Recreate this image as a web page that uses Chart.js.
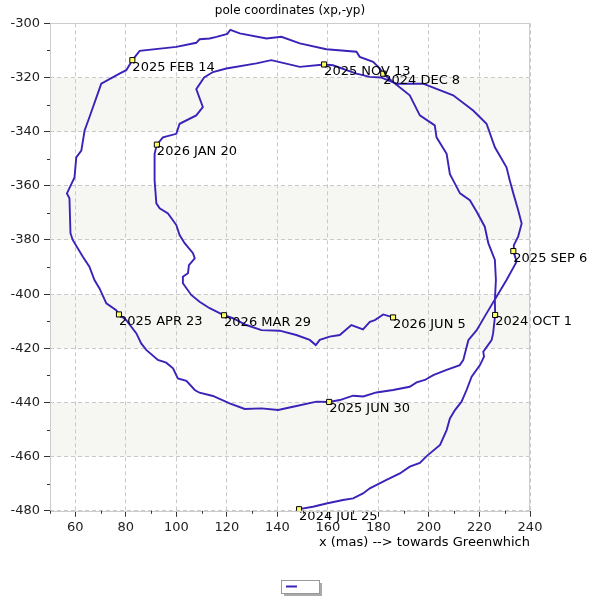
<!DOCTYPE html>
<html>
<head>
<meta charset="utf-8">
<title>pole coordinates (xp,-yp)</title>
<script src="https://cdn.jsdelivr.net/npm/chart.js@4.4.1/dist/chart.umd.min.js"></script>
<style>
  html, body { margin: 0; padding: 0; background: #fff; }
</style>
</head>
<body>
<canvas id="pole" width="600" height="600"></canvas>
<script>
// ── Data: pole path in time order, 2024 JUL 25 → 2026 JUN 5 (mas) ──
const pathX = [
  148.6, 154.1, 159.4, 166.0, 170.0, 173.9, 176.6, 183.2, 188.5, 192.4,
  196.4, 199.1, 204.4, 207.0, 208.3, 210.3, 212.9, 214.9, 216.9, 220.2,
  221.8, 221.5, 224.8, 225.4, 226.2, 226.1, 226.5, 226.1, 223.5, 222.1,
  218.9, 216.2, 212.3, 209.6, 208.3, 207.0, 203.0, 202.3, 196.4, 192.4,
  185.8, 181.9, 180.6, 177.9, 172.6, 171.3, 159.4, 148.9, 141.6, 135.7,
  125.1, 121.4, 120.2, 115.9, 113.2, 109.2, 107.9, 100.0, 85.5, 82.6,
  80.2, 77.5, 70.3, 69.6, 65.6, 63.7, 62.4, 60.4, 59.7, 56.7,
  57.7, 58.1, 59.0, 63.0, 65.6, 67.6, 69.6, 72.3, 76.2, 77.3,
  80.2, 84.2, 86.1, 88.1, 92.7, 96.0, 98.7, 100.6, 104.0, 107.3,
  109.2, 114.5, 121.1, 127.1, 133.7, 140.3, 146.2, 155.5, 160.5, 164.7,
  170.0, 174.0, 179.2, 185.8, 192.4, 195.1, 198.4, 201.7, 207.0, 212.2,
  213.6, 214.6, 215.6, 218.9, 222.8, 226.8, 230.7, 234.7, 233.4, 233.6,
  235.3, 236.7, 235.3, 233.4, 232.0, 230.7, 226.1, 222.8, 217.5, 209.6,
  197.7, 187.2, 181.0, 176.6, 171.3, 162.0, 158.5, 148.9, 137.6, 131.7,
  119.8, 114.5, 111.0, 107.9, 110.5, 107.9, 101.3, 100.0, 94.7, 92.3,
  91.4, 91.4, 92.1, 93.4, 96.7, 100.0, 101.3, 103.3, 106.6, 107.3,
  105.0, 104.6, 102.6, 102.6, 105.9, 109.2, 113.2, 118.9, 122.4, 127.7,
  133.7, 140.9, 147.5, 152.8, 155.2, 156.8, 160.7, 164.7, 169.3, 173.9,
  176.6, 178.6, 181.9, 185.8
];
const pathY = [
  -479.4, -478.5, -477.3, -476.0, -475.4, -473.6, -471.7, -468.6, -466.2, -463.7,
  -462.3, -459.8, -455.7, -450.2, -445.9, -442.8, -439.7, -435.4, -430.5, -426.2,
  -423.1, -421.3, -417.0, -414.5, -407.7, -402.2, -394.8, -387.4, -381.2, -375.1,
  -369.6, -365.3, -362.8, -358.0, -355.7, -348.2, -342.1, -337.7, -334.0, -326.6,
  -321.7, -318.6, -316.7, -314.2, -312.4, -310.5, -309.6, -307.4, -305.0, -305.6,
  -303.7, -302.4, -303.9, -305.0, -305.6, -305.9, -307.2, -308.7, -310.2, -313.6,
  -317.3, -318.6, -322.3, -324.1, -334.7, -339.6, -347.0, -349.5, -356.9, -362.8,
  -364.6, -377.5, -380.0, -386.2, -389.9, -394.8, -397.9, -403.4, -405.9, -407.5,
  -409.6, -414.5, -418.2, -420.6, -424.3, -425.3, -427.4, -431.1, -432.0, -435.4,
  -436.4, -437.6, -440.3, -442.4, -442.2, -442.8, -441.6, -439.7, -439.8, -439.1,
  -437.5, -437.8, -436.3, -435.4, -434.2, -432.6, -431.7, -429.9, -428.0, -426.2,
  -424.3, -420.6, -417.0, -413.3, -407.1, -400.9, -394.8, -388.0, -384.1, -381.9,
  -378.8, -373.9, -368.9, -362.8, -358.0, -353.2, -345.8, -337.1, -332.2, -326.6,
  -322.3, -322.3, -320.0, -319.8, -318.6, -315.5, -315.2, -316.1, -313.6, -314.8,
  -316.7, -318.0, -320.0, -324.3, -330.9, -334.0, -337.1, -340.8, -342.1, -344.8,
  -348.2, -358.0, -366.5, -368.3, -370.2, -374.5, -378.2, -381.2, -384.9, -386.8,
  -389.3, -392.3, -393.6, -396.0, -400.3, -402.8, -405.2, -407.8, -408.9, -411.4,
  -413.3, -413.5, -415.1, -416.9, -418.8, -416.9, -415.7, -415.1, -411.4, -413.0,
  -410.2, -409.6, -407.5, -408.6
];

// Dated markers along the path
const markLabels = [
  '2024 JUL 25', '2024 OCT 1', '2024 DEC 8', '2025 FEB 14', '2025 APR 23', '2025 JUN 30',
  '2025 SEP 6', '2025 NOV 13', '2026 JAN 20', '2026 MAR 29', '2026 JUN 5'
];
const markX = [148.6, 226.2, 181.9, 82.6, 77.3, 160.5, 233.4, 158.5, 92.3, 118.9, 185.8];
const markY = [-479.4, -407.7, -318.6, -313.6, -407.5, -439.8, -384.1, -315.2, -344.8, -407.8, -408.6];

// Labelled (major) ticks
const xTicks = [60, 80, 100, 120, 140, 160, 180, 200, 220, 240];
const yTicks = [-300, -320, -340, -360, -380, -400, -420, -440, -460, -480];

// ── Styles ──
const LINE_COLOR = '#3b22b8';
const BAND_COLOR = '#f6f6f3';
const GRID_COLOR = '#c9c9c9';
const FRAME_COLOR = '#cccccc';
const TICK_COLOR = '#333333';
const FONT = 'DejaVu Sans';

Chart.defaults.font.family = FONT;
Chart.defaults.font.size = 13;
Chart.defaults.color = '#000';

const isMajorX = v => xTicks.includes(v);
const isMajorY = v => yTicks.includes(v);

// ── Plot decorations: bands, frame, minor ticks, marker labels, legend ──
const polePlot = {
  id: 'polePlot',
  beforeDraw(chart) {
    const { ctx, chartArea: a, scales: { y } } = chart;
    ctx.save();
    ctx.fillStyle = '#fff';
    ctx.fillRect(0, 0, chart.width, chart.height);
    ctx.fillStyle = BAND_COLOR;
    for (let i = 1; i + 1 < yTicks.length; i += 2) {
      const t = y.getPixelForValue(yTicks[i]);
      const b = y.getPixelForValue(yTicks[i + 1]);
      ctx.fillRect(a.left, t, a.right - a.left, b - t);
    }
    ctx.restore();
  },
  afterDatasetsDraw(chart) {
    const { ctx } = chart;
    const pts = chart.getDatasetMeta(0).data;
    ctx.save();
    ctx.font = '13px "' + FONT + '"';
    ctx.fillStyle = '#000';
    ctx.textAlign = 'left';
    ctx.textBaseline = 'alphabetic';
    markLabels.forEach((txt, i) => {
      const p = pts[i];
      ctx.fillText(txt, p.x, p.y + 10.5);
    });
    ctx.restore();
  },
  afterDraw(chart) {
    const { ctx, chartArea: a, scales: { x, y } } = chart;
    ctx.save();
    // frame
    ctx.strokeStyle = FRAME_COLOR;
    ctx.lineWidth = 1;
    ctx.strokeRect(Math.round(a.left) + 0.5, Math.round(a.top) + 0.5,
      Math.round(a.right - a.left) - 1, Math.round(a.bottom - a.top));
    // minor ticks
    ctx.strokeStyle = TICK_COLOR;
    ctx.beginPath();
    x.ticks.forEach(t => {
      if (isMajorX(t.value)) return;
      const px = Math.round(x.getPixelForValue(t.value)) + 0.5;
      ctx.moveTo(px, a.bottom);
      ctx.lineTo(px, a.bottom + 3);
    });
    y.ticks.forEach(t => {
      if (isMajorY(t.value)) return;
      const py = Math.round(y.getPixelForValue(t.value)) + 0.5;
      ctx.moveTo(a.left - 3, py);
      ctx.lineTo(a.left, py);
    });
    ctx.stroke();
    // legend box with shadow
    const lx = 281, ly = 580, lw = 38, lh = 13;
    ctx.fillStyle = '#aaaaaa';
    ctx.fillRect(lx + 3, ly + 3, lw, lh);
    ctx.fillStyle = '#fff';
    ctx.fillRect(lx, ly, lw, lh);
    ctx.strokeStyle = '#999';
    ctx.strokeRect(lx + 0.5, ly + 0.5, lw, lh);
    ctx.strokeStyle = LINE_COLOR;
    ctx.lineWidth = 2;
    ctx.beginPath();
    ctx.moveTo(lx + 5, ly + 6.5);
    ctx.lineTo(lx + 16, ly + 6.5);
    ctx.stroke();
    ctx.restore();
  }
};

const pathData = pathX.map((v, i) => ({ x: v, y: pathY[i] }));
const markData = markX.map((v, i) => ({ x: v, y: markY[i] }));

new Chart(document.getElementById('pole'), {
  type: 'scatter',
  data: {
    datasets: [
      {
        label: 'dates',
        data: markData,
        pointStyle: 'rect',
        pointRadius: 3.6,
        pointBackgroundColor: '#ffff66',
        pointBorderColor: '#000',
        pointBorderWidth: 1,
        showLine: false
      },
      {
        label: 'pole',
        data: pathData,
        showLine: true,
        borderColor: LINE_COLOR,
        borderWidth: 1.9,
        pointRadius: 0,
        tension: 0
      }
    ]
  },
  options: {
    responsive: false,
    animation: false,
    layout: { padding: { left: 0, right: 70, top: 0, bottom: 0 } },
    plugins: {
      legend: { display: false },
      tooltip: { enabled: false },
      title: {
        display: true,
        fullSize: false,
        text: 'pole coordinates (xp,-yp)',
        color: '#000',
        font: { size: 12, weight: 'normal' },
        padding: { top: 3.5, bottom: 5.4 }
      }
    },
    scales: {
      x: {
        type: 'linear',
        min: 50, max: 240,
        afterFit: s => { s.height = 89.2; },
        ticks: {
          stepSize: 10, autoSkip: false, maxRotation: 0, padding: 3, color: '#222',
          callback: v => isMajorX(v) ? v : ''
        },
        grid: {
          color: c => c.tick && isMajorX(c.tick.value) ? GRID_COLOR : 'rgba(0,0,0,0)',
          tickColor: c => c.tick && isMajorX(c.tick.value) ? TICK_COLOR : 'rgba(0,0,0,0)',
          tickLength: 6,
          lineWidth: 1
        },
        border: { display: false, dash: [4, 3] },
        title: {
          display: true,
          text: 'x (mas) --> towards Greenwhich',
          align: 'end',
          color: '#000',
          font: { size: 13 },
          padding: { top: 0, bottom: 49.2 }
        }
      },
      y: {
        type: 'linear',
        min: -480, max: -300,
        afterFit: s => { s.width = 50; },
        ticks: {
          stepSize: 10, autoSkip: false, padding: 4, color: '#222',
          callback: v => isMajorY(v) ? v : ''
        },
        grid: {
          color: c => c.tick && isMajorY(c.tick.value) ? GRID_COLOR : 'rgba(0,0,0,0)',
          tickColor: c => c.tick && isMajorY(c.tick.value) ? TICK_COLOR : 'rgba(0,0,0,0)',
          tickLength: 6,
          lineWidth: 1
        },
        border: { display: false, dash: [4, 3] }
      }
    }
  },
  plugins: [polePlot]
});
</script>
</body>
</html>
